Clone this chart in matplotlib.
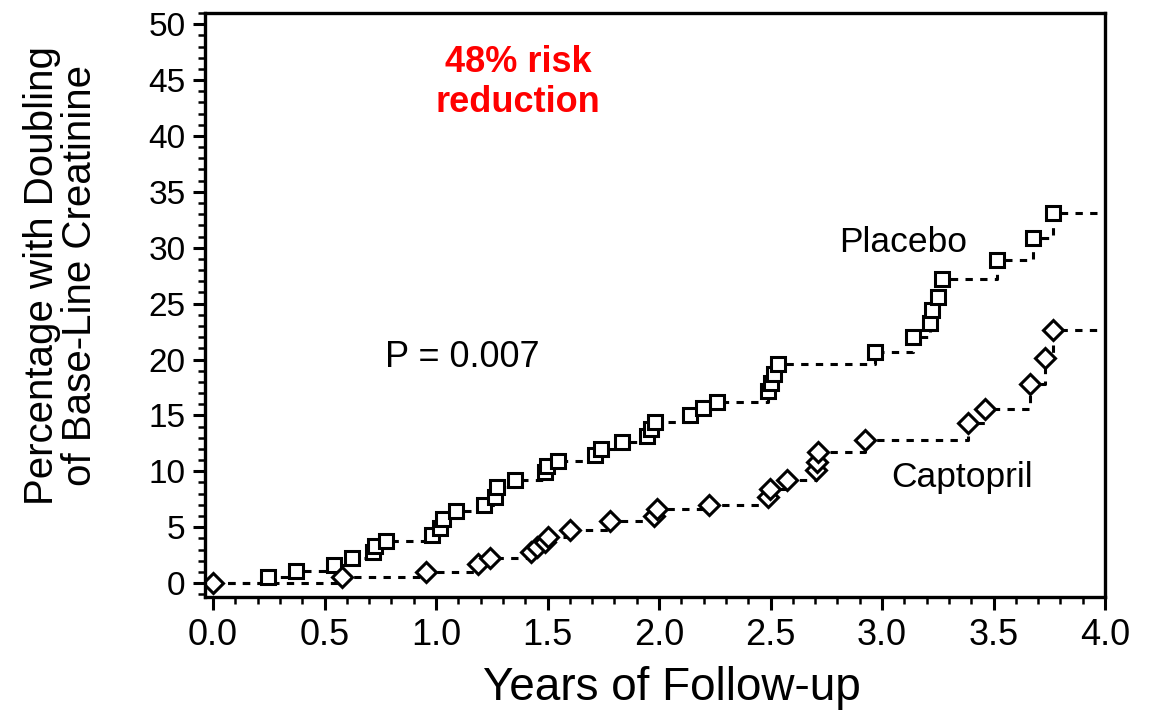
import matplotlib
matplotlib.use("Agg")
import matplotlib.pyplot as plt
from matplotlib.ticker import MultipleLocator

plt.rcParams['font.family'] = ['Liberation Sans', 'DejaVu Sans']

# Placebo events (years, cumulative %)
placebo_x = [0.0, 0.247, 0.372, 0.542, 0.623, 0.717, 0.726, 0.775, 0.982, 1.017,
             1.031, 1.089, 1.215, 1.264, 1.273, 1.354, 1.488, 1.497, 1.546, 1.712,
             1.739, 1.833, 1.945, 1.963, 1.981, 2.138, 2.196, 2.259, 2.488, 2.501,
             2.515, 2.532, 2.967, 3.138, 3.214, 3.223, 3.250, 3.268, 3.514, 3.675,
             3.765]
placebo_y = [0.0, 0.54, 1.07, 1.61, 2.24, 2.77, 3.31, 3.76, 4.29, 4.92,
             5.72, 6.44, 6.98, 7.69, 8.59, 9.21, 9.93, 10.47, 10.91, 11.45,
             11.99, 12.61, 13.15, 13.77, 14.40, 15.03, 15.65, 16.19, 17.17, 17.89,
             18.69, 19.60, 20.66, 22.00, 23.26, 24.42, 25.58, 27.19, 28.89, 30.86,
             33.09]

# Captopril events
captopril_x = [0.0, 0.578, 0.955, 1.188, 1.242, 1.425, 1.452, 1.488, 1.500, 1.600,
               1.780, 1.977, 1.990, 2.223, 2.488, 2.497, 2.573, 2.703, 2.707, 2.712,
               2.922, 3.384, 3.460, 3.662, 3.730, 3.765]
captopril_y = [0.0, 0.54, 0.98, 1.70, 2.24, 2.77, 3.22, 3.67, 4.11, 4.74,
               5.55, 5.99, 6.62, 6.98, 7.69, 8.41, 9.21, 10.10, 10.80, 11.70,
               12.80, 14.30, 15.56, 17.80, 20.10, 22.60]

x_end = 4.02
xticks = [0.0, 0.5, 1.0, 1.5, 2.0, 2.5, 3.0, 3.5, 4.0]
yticks = [0, 5, 10, 15, 20, 25, 30, 35, 40, 45, 50]

fig = plt.figure(figsize=(11.51, 7.11), dpi=100)
ax = fig.add_axes([0.1781, 0.1603, 0.782, 0.8214])

# step lines
ax.plot(placebo_x + [x_end], placebo_y + [placebo_y[-1]], drawstyle='steps-post',
        color='black', lw=2.2, dashes=(2.4, 2.4))
ax.plot(captopril_x + [x_end], captopril_y + [captopril_y[-1]], drawstyle='steps-post',
        color='black', lw=2.2, dashes=(2.4, 2.4))

# markers
ax.plot(placebo_x[1:], placebo_y[1:], linestyle='none', marker='s', markersize=10.5,
        markerfacecolor='white', markeredgecolor='black', markeredgewidth=2.2)
ax.plot(captopril_x, captopril_y, linestyle='none', marker='D', markersize=10,
        markerfacecolor='white', markeredgecolor='black', markeredgewidth=2.2)

ax.set_xlim(-0.036, 4.0)
ax.set_ylim(-1.25, 51.0)
ax.set_xticks(xticks)
ax.set_xticklabels([f"{v:.1f}" for v in xticks])
ax.set_yticks(yticks)
ax.xaxis.set_minor_locator(MultipleLocator(0.1))
ax.yaxis.set_minor_locator(MultipleLocator(1))

for s in ax.spines.values():
    s.set_linewidth(2.4)
ax.tick_params(which='major', direction='out', length=9, width=2.2)
ax.tick_params(which='minor', direction='out', length=5, width=1.8)
ax.tick_params(axis='x', which='major', labelsize=26, pad=6)
ax.tick_params(axis='y', which='major', labelsize=24, pad=5)

ax.text(3.093, 30.5, "Placebo", fontsize=25.5, ha='center', va='center')
ax.text(3.357, 9.4, "Captopril", fontsize=25.5, ha='center', va='center')
ax.text(1.116, 20.2, "P = 0.007", fontsize=26, ha='center', va='center')
ax.text(1.367, 44.8, "48% risk\nreduction", fontsize=26, ha='center', va='center',
        color='#ff0000', fontweight='bold', linespacing=1.2)

fig.text(0.053, 0.613, "Percentage with Doubling\nof Base-Line Creatinine", fontsize=29,
         rotation=90, ha='center', va='center', linespacing=1.02)
fig.text(0.584, 0.032, "Years of Follow-up", fontsize=33, ha='center', va='center')

fig.savefig("out.png", dpi=100)
